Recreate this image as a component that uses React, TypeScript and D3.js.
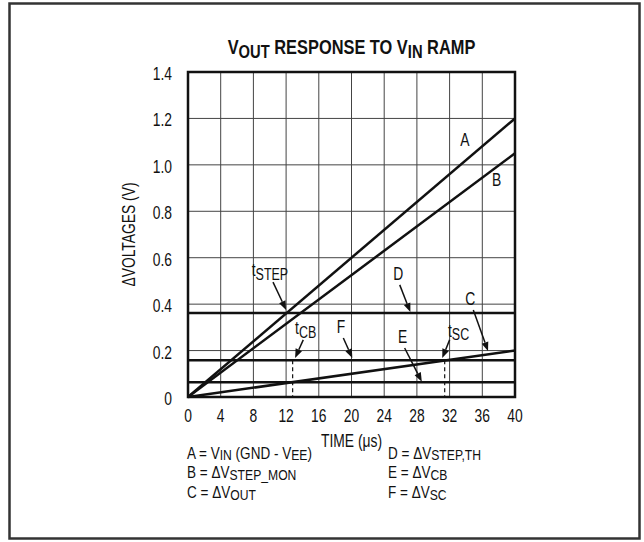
import React from "react";
import * as d3 from "d3";

// ---- data ----
const timeTicks = [0, 4, 8, 12, 16, 20, 24, 28, 32, 36, 40];
const voltTicks = [0, 0.2, 0.4, 0.6, 0.8, 1.0, 1.2, 1.4];
const voltLabels = ["0", "0.2", "0.4", "0.6", "0.8", "1.0", "1.2", "1.4"];
const lineA: [number, number][] = [[0, 0], [40, 1.2]];
const lineB: [number, number][] = [[0, 0], [40, 1.05]];
const lineC: [number, number][] = [[0, 0], [40, 0.2]];
const levelD = 0.362;
const levelF = 0.158;
const levelE = 0.064;
const tCB = 12.8;
const tSC = 31.4;

type Part = { t: string; sub?: boolean };
// annotation labels: [x(µs), y(V)]
const labels: { at: [number, number]; parts: Part[] }[] = [
  { at: [33.3, 1.08], parts: [{ t: "A" }] },
  { at: [37.2, 0.909], parts: [{ t: "B" }] },
  { at: [7.8, 0.52], parts: [{ t: "t" }, { t: "STEP", sub: true }] },
  { at: [25.1, 0.504], parts: [{ t: "D" }] },
  { at: [33.9, 0.396], parts: [{ t: "C" }] },
  { at: [13.1, 0.271], parts: [{ t: "t" }, { t: "CB", sub: true }] },
  { at: [18.2, 0.276], parts: [{ t: "F" }] },
  { at: [25.7, 0.233], parts: [{ t: "E" }] },
  { at: [31.8, 0.259], parts: [{ t: "t" }, { t: "SC", sub: true }] },
];
// arrows: from -> to, in data coords
const arrows: [[number, number], [number, number]][] = [
  [[10.4, 0.495], [12.0, 0.375]],
  [[25.9, 0.483], [27.2, 0.366]],
  [[34.9, 0.375], [36.7, 0.198]],
  [[14.1, 0.246], [13.1, 0.168]],
  [[19.0, 0.254], [20.1, 0.168]],
  [[26.5, 0.211], [28.6, 0.066]],
  [[32.0, 0.246], [31.1, 0.168]],
];

const legendLeft: Part[][] = [
  [{ t: "A = V" }, { t: "IN", sub: true }, { t: " (GND - V" }, { t: "EE", sub: true }, { t: ")" }],
  [{ t: "B = ΔV" }, { t: "STEP_MON", sub: true }],
  [{ t: "C = ΔV" }, { t: "OUT", sub: true }],
];
const legendRight: Part[][] = [
  [{ t: "D = ΔV" }, { t: "STEP,TH", sub: true }],
  [{ t: "E = ΔV" }, { t: "CB", sub: true }],
  [{ t: "F = ΔV" }, { t: "SC", sub: true }],
];

const FONT = "'Liberation Sans', Arial, Helvetica, sans-serif";
const SX = 0.77;
const FS = 18;

function partSpans(parts: Part[], size: number, d: number, keyPrefix: string, firstY?: number) {
  const els: React.ReactNode[] = [];
  let down = false;
  parts.forEach((p, i) => {
    let dy = 0;
    if (p.sub && !down) { dy = size * d; down = true; }
    else if (!p.sub && down) { dy = -size * d; down = false; }
    const extra = i === 0 && firstY !== undefined ? { x: 0, y: firstY } : { dy };
    els.push(
      <tspan key={keyPrefix + i} {...extra} fontSize={p.sub ? size * 0.9 : size}>{p.t}</tspan>
    );
  });
  return els;
}

function Rich({ parts, x, y, size, anchor, weight, sx, rotate, drop }: { parts: Part[]; x: number; y: number; size: number; anchor?: string; weight?: string; sx?: number; rotate?: number; drop?: number }) {
  const tr = `translate(${x},${y})` + (rotate ? ` rotate(${rotate})` : "") + ` scale(${sx ?? SX},1)`;
  return (
    <g transform={tr}>
      <text x={0} y={0} fontFamily={FONT} fontSize={size} textAnchor={anchor || "start"} fontWeight={weight || "normal"} fill="#111">
        {partSpans(parts, size, drop ?? 0.2, "p")}
      </text>
    </g>
  );
}

function Block({ rows, x, y, size, lh, sx }: { rows: Part[][]; x: number; y: number; size: number; lh: number; sx: number }) {
  return (
    <g transform={`translate(${x},${y}) scale(${sx},1)`}>
      <text fontFamily={FONT} fontSize={size} fill="#111">
        {rows.map((r, i) => partSpans(r, size, 0.1, "r" + i + "_", i * lh))}
      </text>
    </g>
  );
}

export default function App() {
  const W = 644, H = 542;
  const x = d3.scaleLinear().domain([0, 40]).range([188, 515]);
  const y = d3.scaleLinear().domain([0, 1.4]).range([397, 72]);
  const line = d3.line<[number, number]>().x(d => x(d[0])).y(d => y(d[1]));
  const cx = (x(0) + x(40)) / 2;

  const arrowHead = (from: [number, number], to: [number, number]) => {
    const x1 = x(from[0]), y1 = y(from[1]), x2 = x(to[0]), y2 = y(to[1]);
    const ang = Math.atan2(y2 - y1, x2 - x1);
    const L = 9, Wd = 3.5;
    const bx = x2 - L * Math.cos(ang), by = y2 - L * Math.sin(ang);
    const px = -Math.sin(ang) * Wd, py = Math.cos(ang) * Wd;
    return { shaft: `M${x1},${y1}L${bx},${by}`, head: `M${x2},${y2}L${bx + px},${by + py}L${bx - px},${by - py}Z` };
  };

  return (
    <svg width={W} height={H} style={{ position: "absolute", left: 0, top: 0 }}>
      <rect x={0} y={0} width={W} height={H} fill="#fff" />
      <rect x={9.5} y={3.5} width={630} height={535} fill="none" stroke="#333" strokeWidth={2.5} />
      {/* title */}
      <Rich x={cx} y={54} size={20} weight="bold" anchor="middle" sx={0.82}
        parts={[{ t: "V" }, { t: "OUT", sub: true }, { t: " RESPONSE TO V" }, { t: "IN", sub: true }, { t: " RAMP" }]} />
      {/* grid */}
      {timeTicks.map(t => (
        <line key={"gx" + t} x1={x(t)} x2={x(t)} y1={y(0)} y2={y(1.4)} stroke="#444" strokeWidth={1} />
      ))}
      {voltTicks.map(v => (
        <line key={"gy" + v} x1={x(0)} x2={x(40)} y1={y(v)} y2={y(v)} stroke="#444" strokeWidth={1} />
      ))}
      {/* dashed verticals */}
      {[tCB, tSC].map(t => (
        <line key={"d" + t} x1={x(t)} x2={x(t)} y1={y(levelF)} y2={y(0)} stroke="#111" strokeWidth={1.2} strokeDasharray="4,3" />
      ))}
      {/* levels */}
      {[levelD, levelF, levelE].map(v => (
        <line key={"lv" + v} x1={x(0)} x2={x(40)} y1={y(v)} y2={y(v)} stroke="#111" strokeWidth={2.5} />
      ))}
      {/* ramps */}
      {[lineA, lineB, lineC].map((d, i) => (
        <path key={"r" + i} d={line(d) || ""} fill="none" stroke="#111" strokeWidth={2.5} />
      ))}
      {/* frame */}
      <rect x={x(0)} y={y(1.4)} width={x(40) - x(0)} height={y(0) - y(1.4)} fill="none" stroke="#111" strokeWidth={2.5} />
      {/* tick labels */}
      {voltTicks.map((v, i) => (
        <Rich key={"yl" + v} parts={[{ t: voltLabels[i] }]} x={172} y={y(v) + 8} size={FS} anchor="end" />
      ))}
      {timeTicks.map(t => (
        <Rich key={"xl" + t} parts={[{ t: String(t) }]} x={x(t)} y={421.5} size={FS} anchor="middle" />
      ))}
      <Rich parts={[{ t: "TIME (μs)" }]} x={cx} y={447} size={FS} anchor="middle" />
      <Rich parts={[{ t: "ΔVOLTAGES (V)" }]} x={135} y={(y(0) + y(1.4)) / 2} size={FS} anchor="middle" rotate={-90} />
      {/* annotations */}
      {labels.map((l, i) => (
        <Rich key={"al" + i} parts={l.parts} x={x(l.at[0])} y={y(l.at[1])} size={FS} />
      ))}
      {arrows.map((a, i) => {
        const h = arrowHead(a[0], a[1]);
        return (
          <g key={"ar" + i}>
            <path d={h.shaft} stroke="#111" strokeWidth={1.5} fill="none" />
            <path d={h.head} fill="#111" />
          </g>
        );
      })}
      {/* legend */}
      <Block rows={legendLeft} x={187} y={458.5} size={16.5} lh={20} sx={0.82} />
      <Block rows={legendRight} x={388} y={458.5} size={16.5} lh={20} sx={0.82} />
    </svg>
  );
}
